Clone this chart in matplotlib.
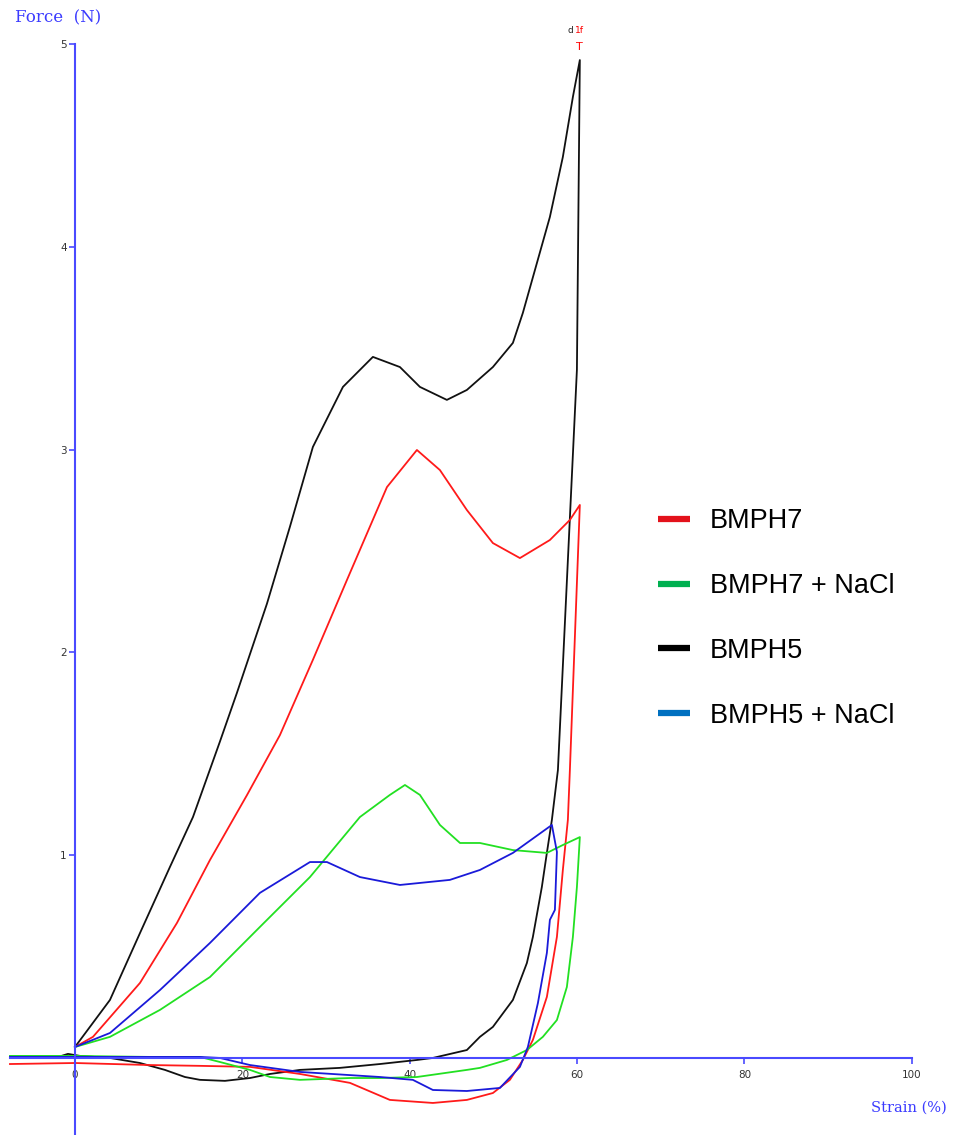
#!/usr/bin/env python3
# -*- coding: utf-8 -*-

import matplotlib
matplotlib.use("Agg")
import matplotlib.pyplot as plt
from matplotlib.lines import Line2D

# ---- data (strain %, force N), loading + unloading loop ----
bmph5_x = [0, 4.18, 7.77, 11.35, 14.10, 17.32, 19.35, 22.94, 25.69, 28.43, 32.02, 35.60,
           38.83, 41.22, 44.44, 46.83, 49.94, 52.33, 53.52, 55.20, 56.75, 58.30, 59.50, 60.33,
           59.98, 57.71, 56.99, 56.39, 55.79, 54.72, 54.00, 52.33, 49.94, 48.39, 46.83, 42.77,
           40.86, 36.44, 31.66, 26.88, 23.30, 20.91, 17.92, 14.93, 13.14, 10.75, 7.77, 4.18,
           0.60, -0.84, -2.39, -7.77]
bmph5_y = [0.054, 0.286, 0.616, 0.942, 1.188, 1.560, 1.800, 2.240, 2.620, 3.013, 3.309, 3.457,
           3.407, 3.309, 3.245, 3.294, 3.407, 3.526, 3.674, 3.920, 4.147, 4.443, 4.739, 4.921,
           3.393, 1.420, 1.174, 1.011, 0.843, 0.597, 0.468, 0.286, 0.153, 0.104, 0.039, 0.0,
           -0.010, -0.030, -0.049, -0.059, -0.079, -0.099, -0.113, -0.108, -0.094, -0.059, -0.025, 0.0,
           0.010, 0.020, 0.0, 0.0]

bmph7_x = [0, 2.15, 7.77, 12.19, 16.13, 20.55, 24.49, 28.43, 32.50, 37.28, 40.86, 43.61,
           46.83, 49.94, 53.17, 56.75, 59.14, 60.33,
           59.14, 58.90, 58.30, 57.59, 56.39, 54.72, 53.52, 51.97, 49.94, 46.83, 42.77, 37.63,
           32.86, 26.88, 20.91, 14.93, 8.96, 0, -7.77]
bmph7_y = [0.054, 0.104, 0.370, 0.666, 0.976, 1.296, 1.592, 1.963, 2.357, 2.815, 2.998, 2.899,
           2.702, 2.539, 2.465, 2.554, 2.653, 2.727,
           1.420, 1.174, 0.927, 0.597, 0.301, 0.089, -0.010, -0.108, -0.173, -0.207, -0.222, -0.207,
           -0.123, -0.079, -0.044, -0.039, -0.035, -0.025, -0.030]

bmph7_nacl_x = [0, 4.18, 10.16, 16.13, 22.10, 28.08, 34.05, 37.63, 39.43, 41.22, 43.61, 46.01,
                48.39, 52.33, 56.39, 58.30, 60.33,
                59.98, 59.50, 58.78, 57.59, 55.91, 54.00, 51.61, 48.39, 46.83, 40.86, 36.44,
                32.86, 26.88, 23.30, 20.91, 17.32, 14.93, 8.96, 0, -7.77]
bmph7_nacl_y = [0.054, 0.104, 0.237, 0.399, 0.646, 0.892, 1.188, 1.297, 1.346, 1.297, 1.149, 1.060,
                1.060, 1.025, 1.011, 1.050, 1.089,
                0.843, 0.597, 0.350, 0.187, 0.104, 0.039, -0.010, -0.049, -0.059, -0.094, -0.099,
                -0.099, -0.108, -0.094, -0.059, -0.020, 0.005, 0.005, 0.010, 0.010]

bmph5_nacl_x = [0, 4.18, 10.16, 16.13, 22.10, 28.08, 30.11, 34.05, 38.83, 44.80, 48.39, 52.33, 56.99,
                57.59, 57.35, 56.75, 56.39, 55.32, 54.12, 53.17, 50.78, 46.83, 42.77, 40.37, 36.44,
                26.88, 20.91, 17.32, 14.93, 0, -7.77]
bmph5_nacl_y = [0.054, 0.123, 0.335, 0.567, 0.814, 0.966, 0.966, 0.892, 0.853, 0.878, 0.927, 1.011, 1.149,
                1.016, 0.730, 0.681, 0.518, 0.271, 0.054, -0.044, -0.148, -0.163, -0.158, -0.108, -0.094,
                -0.069, -0.035, 0.0, 0.005, 0.005, 0.005]

legend_labels = ["BMPH7", "BMPH7 + NaCl", "BMPH5", "BMPH5 + NaCl"]
legend_colors = ["#e3121b", "#00b050", "#000000", "#0070c0"]

x_ticks = [0, 20, 40, 60, 80, 100]
y_ticks = [1, 2, 3, 4, 5]

AXIS_BLUE = "#4a4aff"


def main():
    fig = plt.figure(figsize=(9.57, 11.35), dpi=100)
    ax = fig.add_axes([0, 0, 1, 1])
    ax.set_xlim(-8.96, 105.4)
    ax.set_ylim(-0.38, 5.217)
    ax.set_axisbelow(True)

    # curves
    ax.plot(bmph5_x, bmph5_y, color="#111111", lw=1.3)
    ax.plot(bmph7_x, bmph7_y, color="#ff1a1a", lw=1.3)
    ax.plot(bmph7_nacl_x, bmph7_nacl_y, color="#22e022", lw=1.3)
    ax.plot(bmph5_nacl_x, bmph5_nacl_y, color="#1a1ad9", lw=1.3)

    # axes through the origin, instrument-software style
    for s in ["top", "right"]:
        ax.spines[s].set_visible(False)
    ax.spines["left"].set_position(("data", 0))
    ax.spines["bottom"].set_position(("data", 0))
    ax.spines["left"].set_bounds(-0.38, 5)
    ax.spines["bottom"].set_bounds(-7.8, 100)
    for s in ["left", "bottom"]:
        ax.spines[s].set_color(AXIS_BLUE)
        ax.spines[s].set_linewidth(1.5)

    ax.set_xticks(x_ticks)
    ax.set_yticks(y_ticks)
    ax.tick_params(axis="both", colors=AXIS_BLUE, labelcolor="#333333",
                   labelsize=7.5, length=4, width=1.2, direction="out")
    ax.tick_params(axis="x", pad=5)
    ax.tick_params(axis="y", pad=2)

    # axis titles
    fig.text(15 / 957, 1 - 18 / 1135, "Force  (N)", family="DejaVu Serif",
             fontsize=12, color="#3b3bff", ha="left", va="center")
    fig.text(947 / 957, 1 - 1108 / 1135, "Strain (%)", family="DejaVu Serif",
             fontsize=10.5, color="#3b3bff", ha="right", va="center")

    # break marker on the top curve
    top_i = bmph5_y.index(max(bmph5_y))
    px, py = bmph5_x[top_i], bmph5_y[top_i]
    ax.annotate("T", (px, py), xytext=(0, 6), textcoords="offset points",
                ha="center", va="bottom", color="red", fontsize=8)
    ax.annotate("d", (px, py), xytext=(-6.5, 18), textcoords="offset points",
                ha="center", va="bottom", color="#222222", fontsize=6.5)
    ax.annotate("1f", (px, py), xytext=(-3.6, 18), textcoords="offset points",
                ha="left", va="bottom", color="red", fontsize=6.5)

    # legend (from the slide, not the plot itself)
    handles = [Line2D([], [], color=c, lw=4.5, solid_capstyle="butt") for c in legend_colors]
    fig.legend(handles, legend_labels, loc="upper left",
               bbox_to_anchor=(634 / 957, 1 - 484 / 1135), frameon=False,
               prop={"family": "Liberation Sans", "size": 19.5},
               handlelength=1.18, handletextpad=0.72, labelspacing=1.43)

    plt.savefig("out.png", dpi=100)
    plt.close()


if __name__ == "__main__":
    main()
